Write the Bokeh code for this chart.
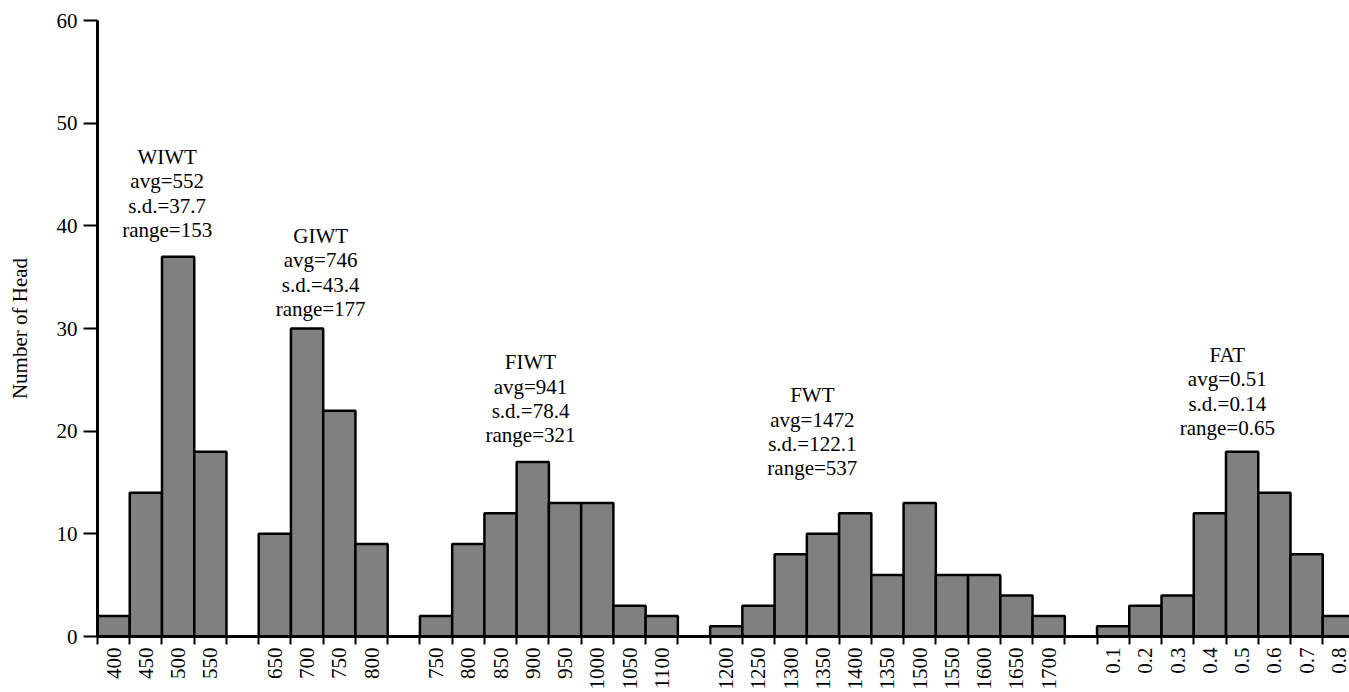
import math
from bokeh.plotting import figure
from bokeh.models import Range1d, FixedTicker, ColumnDataSource
from bokeh.core.properties import value
from bokeh.embed import file_html
from bokeh.resources import INLINE

# ---- data ----
wiwt_bins = ["400", "450", "500", "550"]
wiwt_counts = [2, 14, 37, 18]
giwt_bins = ["650", "700", "750", "800"]
giwt_counts = [10, 30, 22, 9]
fiwt_bins = ["750", "800", "850", "900", "950", "1000", "1050", "1100"]
fiwt_counts = [2, 9, 12, 17, 13, 13, 3, 2]
fwt_bins = ["1200", "1250", "1300", "1350", "1400", "1350", "1500", "1550", "1600", "1650", "1700"]
fwt_counts = [1, 3, 8, 10, 12, 6, 13, 6, 6, 4, 2]
fat_bins = ["0.1", "0.2", "0.3", "0.4", "0.5", "0.6", "0.7", "0.8"]
fat_counts = [1, 3, 4, 12, 18, 14, 8, 2]

group_names = ["WIWT", "GIWT", "FIWT", "FWT", "FAT"]
group_avg = ["552", "746", "941", "1472", "0.51"]
group_sd = ["37.7", "43.4", "78.4", "122.1", "0.14"]
group_range = ["153", "177", "321", "537", "0.65"]

groups = [
    (wiwt_bins, wiwt_counts),
    (giwt_bins, giwt_counts),
    (fiwt_bins, fiwt_counts),
    (fwt_bins, fwt_counts),
    (fat_bins, fat_counts),
]

# ---- layout (annotation anchors in data units, relative placement) ----
label_x_shift = [0.16, -0.08, -0.57, -2.33, 0.04]   # offset from group centre (slots)
label_top_y = [46.7, 39.0, 26.7, 23.5, 27.4]        # centre of first text line
FONT = "Liberation Serif"

lefts, rights, tops, tick_pos, tick_lab = [], [], [], [], []
group_centers = []
slot = 0
for bins, counts in groups:
    start = slot
    for b, c in zip(bins, counts):
        lefts.append(slot)
        rights.append(slot + 1)
        tops.append(c)
        tick_pos.append(slot + 0.5)
        tick_lab.append(b)
        slot += 1
    group_centers.append(start + len(bins) / 2.0)
    slot += 1  # gap slot
n_slots = slot

p = figure(width=1349, height=692, output_backend="svg", toolbar_location=None,
           x_range=Range1d(0, 38.83), y_range=Range1d(0, 60),
           min_border_left=97, min_border_top=20, min_border_right=0,
           min_border_bottom=0)
p.outline_line_color = None
p.border_fill_color = "white"
p.xgrid.grid_line_color = None
p.ygrid.grid_line_color = None
p.background_fill_color = "white"

src = ColumnDataSource(dict(left=lefts, right=rights, top=tops))
p.quad(left="left", right="right", bottom=0, top="top", source=src,
       fill_color="#808080", line_color="black", line_width=2.5)

# x axis: labels at bar centres, ticks at every slot boundary
xax = p.xaxis[0]
xax.ticker = FixedTicker(ticks=tick_pos, minor_ticks=list(range(0, n_slots + 1)))
xax.major_label_overrides = {t: l for t, l in zip(tick_pos, tick_lab)}
xax.major_label_orientation = math.pi / 2
xax.major_tick_out = 0
xax.major_tick_in = 0
xax.minor_tick_out = 8
xax.minor_tick_in = 0
xax.minor_tick_line_width = 2
xax.minor_tick_line_color = "black"
xax.axis_line_width = 3
xax.axis_line_color = "black"
xax.major_label_text_font = FONT
xax.major_label_text_font_size = "21px"
xax.major_label_text_color = "black"
xax.major_label_standoff = 3

yax = p.yaxis[0]
yax.ticker = FixedTicker(ticks=[0, 10, 20, 30, 40, 50, 60], minor_ticks=[])
yax.major_tick_out = 14
yax.major_tick_in = 0
yax.major_tick_line_width = 2
yax.minor_tick_out = 0
yax.minor_tick_in = 0
yax.axis_line_width = 3
yax.axis_line_color = "black"
yax.major_label_text_font = FONT
yax.major_label_text_font_size = "21px"
yax.major_label_text_color = "black"
yax.major_label_standoff = 6
yax.axis_label = "Number of Head"
yax.axis_label_text_font = FONT
yax.axis_label_text_font_size = "21px"
yax.axis_label_text_font_style = "normal"
yax.axis_label_text_color = "black"
yax.axis_label_standoff = 22

# annotations
for i, name in enumerate(group_names):
    lines = [name, "avg=" + group_avg[i], "s.d.=" + group_sd[i], "range=" + group_range[i]]
    cx = group_centers[i] + label_x_shift[i]
    for k, t in enumerate(lines):
        p.text(x=[cx], y=[label_top_y[i]], text=[t], y_offset=k * 24.3,
               text_align="center", text_baseline="middle",
               text_font=value(FONT), text_font_size="21px", text_color="black")

open("out.html", "w").write(file_html(p, INLINE))
